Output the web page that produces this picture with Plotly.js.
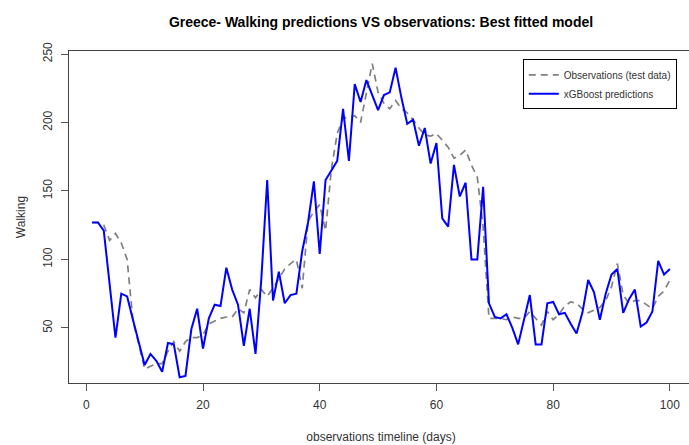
<!DOCTYPE html>
<html>
<head>
<meta charset="utf-8">
<script src="https://cdn.plot.ly/plotly-3.0.1.min.js"></script>
<style>
html, body { margin: 0; padding: 0; overflow: hidden; background: #fff; }
#chart { width: 700px; height: 445px; }
</style>
</head>
<body>
<div id="chart"></div>
<script>
const days = Array.from({length: 100}, (_, i) => i + 1);

const observations = [
  127, 127, 125, 114, 119, 112, 100, 55, 38, 20,
  22, 24, 24, 33, 40, 33, 40, 43, 43, 45,
  53, 55, 57, 58, 58, 64, 61, 78, 72, 78,
  73, 79, 86, 93, 97, 100, 79, 128, 135, 140,
  121, 166, 192, 203, 204, 205, 200, 221, 243, 222,
  214, 210, 216, 210, 207, 202, 196, 191, 190, 192,
  187, 182, 174, 176, 180, 169, 160, 124, 57, 57,
  57, 56, 58, 57, 57, 62, 57, 52, 62, 56,
  60, 66, 69, 68, 64, 61, 63, 65, 70, 80,
  97, 74, 68, 70, 70, 67, 64, 73, 77, 85
];

const predictions = [
  127, 127, 121, 82, 43, 75, 73, 56, 40, 23,
  31, 26, 18, 39, 38, 14, 15, 49, 64, 35,
  57, 67, 66, 94, 78, 67, 37, 64, 31, 86,
  158, 70, 91, 68, 74, 75, 106, 127, 157, 104,
  158, 165, 172, 210, 172, 228, 215, 231, 220, 209,
  220, 222, 240, 218, 199, 202, 183, 196, 170, 185,
  130, 124, 169, 146, 156, 100, 100, 153, 68, 58,
  57, 60, 50, 38, 56, 74, 38, 38, 68, 69,
  60, 61, 53, 46, 61, 85, 76, 56, 75, 89,
  93, 61, 71, 78, 51, 54, 62, 99, 89, 93
];

const xTicks = [0, 20, 40, 60, 80, 100];
const yTicks = [50, 100, 150, 200, 250];

const FONT = 'Arial, "Liberation Sans", sans-serif';

const traces = [
  {
    x: days, y: observations, type: 'scatter', mode: 'lines',
    name: 'Observations (test data)',
    line: {color: '#808080', width: 1.7, dash: '7px,5px'}
  },
  {
    x: days, y: predictions, type: 'scatter', mode: 'lines',
    name: 'xGBoost predictions',
    line: {color: '#0000ff', width: 2}
  }
];

const layout = {
  width: 700, height: 445,
  margin: {l: 69, r: 7, t: 51, b: 62},
  paper_bgcolor: '#ffffff', plot_bgcolor: '#ffffff',
  font: {family: FONT, size: 12, color: '#333'},
  title: {
    text: '<b>Greece- Walking predictions VS observations: Best fitted model</b>',
    font: {family: FONT, size: 14, color: '#000'},
    xref: 'paper', x: 0.5, xanchor: 'center',
    yref: 'container', y: 1 - 22.5 / 445, yanchor: 'middle'
  },
  showlegend: true,
  legend: {
    x: 0.974, xanchor: 'right', y: 0.975, yanchor: 'top',
    bordercolor: '#000', borderwidth: 1, bgcolor: '#fff',
    font: {family: FONT, size: 10, color: '#333'},
    tracegroupgap: 0, itemwidth: 30
  },
  xaxis: {
    range: [-2.96, 103.96], autorange: false,
    tickvals: xTicks, ticktext: xTicks.map(String),
    ticks: 'outside', ticklen: 7, tickcolor: '#555', tickwidth: 1,
    showgrid: false, zeroline: false,
    showline: true, mirror: true, linecolor: '#444', linewidth: 1,
    tickfont: {family: FONT, size: 12, color: '#333'},
    ticklabelstandoff: 4,
    title: {text: 'observations timeline (days)', font: {family: FONT, size: 12, color: '#333'}, standoff: 21}
  },
  yaxis: {
    range: [9.8, 252.2], autorange: false,
    tickvals: yTicks, ticktext: yTicks.map(String),
    tickangle: -90,
    ticks: 'outside', ticklen: 7, tickcolor: '#555', tickwidth: 1,
    showgrid: false, zeroline: false,
    showline: true, mirror: true, linecolor: '#444', linewidth: 1,
    tickfont: {family: FONT, size: 12, color: '#333'},
    ticklabelstandoff: 4,
    title: {text: 'Walking', font: {family: FONT, size: 12, color: '#333'}, standoff: 13}
  }
};

Plotly.newPlot('chart', traces, layout, {displayModeBar: false, staticPlot: true});
</script>
</body>
</html>
